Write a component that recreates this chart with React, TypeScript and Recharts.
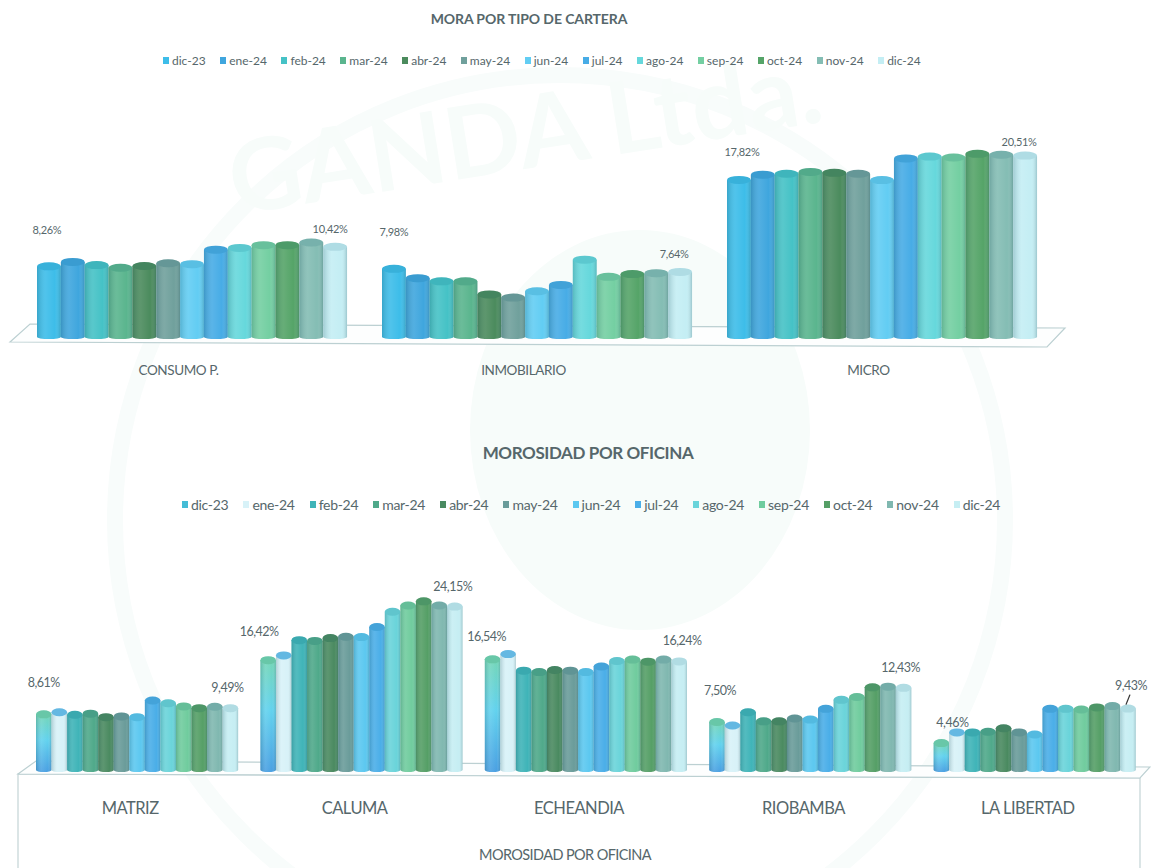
import { BarChart, Bar, XAxis, YAxis, Legend, LabelList } from "recharts";

const months = ["dic-23", "ene-24", "feb-24", "mar-24", "abr-24", "may-24", "jun-24", "jul-24", "ago-24", "sep-24", "oct-24", "nov-24", "dic-24"];

const carteraCategories = ["CONSUMO P.", "INMOBILARIO", "MICRO"];
const consumoValues = [8.26, 8.75, 8.4, 8.1, 8.3, 8.6, 8.5, 10.1, 10.3, 10.6, 10.6, 10.9, 10.42];
const inmobiliarioValues = [7.98, 6.95, 6.6, 6.6, 5.15, 4.8, 5.5, 6.2, 9.0, 7.1, 7.4, 7.5, 7.64];
const microValues = [17.82, 18.4, 18.5, 18.7, 18.6, 18.5, 17.8, 20.2, 20.4, 20.3, 20.7, 20.6, 20.51];

const oficinaCategories = ["MATRIZ", "CALUMA", "ECHEANDIA", "RIOBAMBA", "LA LIBERTAD"];
const matrizValues = [8.61, 8.9, 8.55, 8.7, 8.2, 8.3, 8.2, 10.6, 10.2, 9.75, 9.5, 9.7, 9.49];
const calumaValues = [16.42, 17.1, 19.3, 19.2, 19.6, 19.8, 19.75, 21.2, 23.4, 24.3, 24.9, 24.3, 24.15];
const echeandiaValues = [16.54, 17.3, 14.9, 14.7, 15, 14.9, 14.7, 15.5, 16.3, 16.5, 16.2, 16.5, 16.24];
const riobambaValues = [7.5, 7.0, 8.9, 7.6, 7.6, 8, 7.85, 9.4, 10.7, 11.1, 12.5, 12.6, 12.43];
const libertadValues = [4.46, 6, 6, 6.1, 6.6, 6, 5.7, 9.4, 9.4, 9.3, 9.6, 9.8, 9.43];

const carteraColors = ["#3dbde9", "#3fa6de", "#45c2c6", "#5ab58e", "#4b8b5d", "#70a09c", "#62cdf3", "#47ace6", "#66d8dc", "#74cfa2", "#55a468", "#84bdb4", "#c4eef4"];
const oficinaColors = ["#45bcd6", "#d8f2f8", "#3fb4b8", "#4fa98a", "#4a8a60", "#6a9c9a", "#5cc8f0", "#4aaee8", "#6ad4da", "#70cc9e", "#559f66", "#80b8b0", "#c6eef3"];

const buildRows = (categories: string[], columns: number[][]) =>
  categories.map((category, i) => {
    const row: Record<string, string | number> = { category };
    months.forEach((m, j) => {
      row[m] = columns[i][j];
    });
    return row;
  });

const carteraData = buildRows(carteraCategories, [consumoValues, inmobiliarioValues, microValues]);
const oficinaData = buildRows(oficinaCategories, [matrizValues, calumaValues, echeandiaValues, riobambaValues, libertadValues]);

const textColor = "#56676b";
const fontFamily = "Lato, sans-serif";
const fmt = (v: number) => v.toFixed(2).replace(".", ",") + "%";

const Cylinder = (props: any) => {
  const { x, y, width, height, fill, cap } = props;
  const ry = 4;
  const rx = width / 2;
  const cx = x + rx;
  const body = `M${x},${y + ry} L${x},${y + height} A${rx},2 0 0 0 ${x + width},${y + height} L${x + width},${y + ry} Z`;
  return (
    <g>
      <path d={body} fill={fill} />
      <path d={body} fill="url(#cylShade)" />
      <ellipse cx={cx} cy={y + ry} rx={rx} ry={ry} fill={cap || fill} />
      <ellipse cx={cx} cy={y + ry} rx={rx} ry={ry} fill="#1c5a70" fillOpacity={0.12} />
    </g>
  );
};

const LegendRow = ({ left, top, gap, size, spacing, colors }: any) => (
  <div style={{ position: "absolute", left, top, display: "flex", columnGap: gap, whiteSpace: "nowrap", fontFamily, fontSize: size, letterSpacing: spacing, color: textColor }}>
    {months.map((m, i) => (
      <span key={m} style={{ display: "flex", alignItems: "center", columnGap: 3 }}>
        <span style={{ width: 6, height: 7, background: colors[i], display: "block" }} />
        {m}
      </span>
    ))}
  </div>
);

// etiquetas del primer y ultimo mes, con ajuste a mano por categoria
const edgeLabel = (shift: number[], dy: number[], size: number, spacing: number, pointerAt = -1) => (props: any) => {
  const { x, y, width, value, index } = props;
  const tx = x + width / 2 + shift[index];
  return (
    <g>
      <text x={tx} y={y - dy[index]} textAnchor="middle" fontFamily={fontFamily} fontSize={size} letterSpacing={spacing} fill={textColor}>
        {fmt(Number(value))}
      </text>
      {index === pointerAt && <line x1={tx - 1} y1={y - dy[index] + 5} x2={tx - 5} y2={y - dy[index] + 15} stroke="#333" strokeWidth={1.3} />}
    </g>
  );
};

const Defs = () => (
  <defs>
    <linearGradient id="cylShade" x1="0" y1="0" x2="1" y2="0">
      <stop offset="0%" stopColor="#20505a" stopOpacity={0.22} />
      <stop offset="35%" stopColor="#ffffff" stopOpacity={0.1} />
      <stop offset="75%" stopColor="#ffffff" stopOpacity={0} />
      <stop offset="100%" stopColor="#20505a" stopOpacity={0.25} />
    </linearGradient>
    <linearGradient id="dicFade" x1="0" y1="0" x2="0" y2="1">
      <stop offset="0%" stopColor="#74d6b8" />
      <stop offset="45%" stopColor="#62d2ee" />
      <stop offset="100%" stopColor="#4aa0e2" />
    </linearGradient>
  </defs>
);

export default function App() {
  return (
    <div style={{ position: "absolute", left: 0, top: 0, width: 1151, height: 868, overflow: "hidden", background: "#fff", fontFamily, color: textColor }}>
      <svg width={1151} height={868} style={{ position: "absolute", left: 0, top: 0 }}>
        {/* marca de agua */}
        <circle cx={560} cy={520} r={445} fill="none" stroke="#f8fcfb" strokeWidth={16} />
        <ellipse cx={640} cy={430} rx={170} ry={200} fill="#f7fcfa" />
        <text x={235} y={215} fontFamily={fontFamily} fontSize={100} fontWeight={700} fill="#f7fcfa" transform="rotate(-9 235 215)">
          GANDA Ltda.
        </text>
        {/* pisos */}
        <polygon points="10,342 30,324 1065,328 1047,347" fill="#fdfefe" stroke="#bcd0d2" strokeWidth={1.2} />
        <polyline points="18,868 18,774 1140,778 1140,868" fill="none" stroke="#c4d4d6" strokeWidth={1.2} />
        <polygon points="18,774 36,761 1150,767 1140,778" fill="#fdfefe" stroke="#bcd0d2" strokeWidth={1.2} />
      </svg>

      <div style={{ position: "absolute", left: 0, width: 1058, textAlign: "center", top: 10, fontSize: 14, fontWeight: 700, letterSpacing: -0.1 }}>MORA POR TIPO DE CARTERA</div>
      <div style={{ position: "absolute", left: 0, width: 1176, textAlign: "center", top: 442, fontSize: 17, fontWeight: 700, letterSpacing: -0.4 }}>MOROSIDAD POR OFICINA</div>

      <div style={{ position: "absolute", left: 0, top: 0 }}>
        <BarChart width={1151} height={400} data={carteraData} barGap={0} barSize={23.85} margin={{ top: 111, right: 96, bottom: 23, left: 20 }}>
          <Defs />
          <XAxis dataKey="category" height={40} axisLine={false} tickLine={false} tickMargin={22} interval={0} dx={-14} tick={{ fill: textColor, fontSize: 13.5, fontFamily, letterSpacing: -0.4 }} />
          <YAxis hide domain={[0, 25]} />
          <Legend
            layout="horizontal"
            verticalAlign="middle"
            wrapperStyle={{ top: 0, left: 0, width: 1151, height: 0 }}
            content={() => <LegendRow left={163} top={53} gap={14.5} size={12} spacing={0} colors={carteraColors} />}
          />
          {months.map((m, i) => (
            <Bar key={m} dataKey={m} fill={carteraColors[i]} isAnimationActive={false} shape={(p: any) => <Cylinder {...p} />}>
              {i === 0 && <LabelList dataKey={m} content={edgeLabel([-2, 0, 3], [28, 29, 20], 11, -0.3)} />}
              {i === months.length - 1 && <LabelList dataKey={m} content={edgeLabel([-5, -6, -6], [10, 10, 6], 11, -0.3)} />}
            </Bar>
          ))}
        </BarChart>
      </div>

      <div style={{ position: "absolute", left: 0, top: 0 }}>
        <BarChart width={1151} height={868} data={oficinaData} barGap={0} barSize={15.55} margin={{ top: 562, right: 4, bottom: 0, left: 25 }}>
          <Defs />
          <XAxis
            dataKey="category"
            height={98}
            axisLine={false}
            tickLine={false}
            tickMargin={26}
            interval={0}
            dx={-7}
            tick={{ fill: textColor, fontSize: 16.5, fontFamily, letterSpacing: -0.5 }}
            label={{ value: "MOROSIDAD POR OFICINA", position: "insideBottom", offset: 8, dx: -21, fill: textColor, fontSize: 14.5, fontFamily, letterSpacing: -0.6 }}
          />
          <YAxis hide domain={[0, 30]} />
          <Legend
            layout="horizontal"
            verticalAlign="middle"
            wrapperStyle={{ top: 0, left: 0, width: 1151, height: 0 }}
            content={() => <LegendRow left={182} top={496} gap={15} size={14} spacing={-0.3} colors={oficinaColors} />}
          />
          {months.map((m, i) => (
            <Bar
              key={m}
              dataKey={m}
              fill={i === 0 ? "url(#dicFade)" : oficinaColors[i]}
              isAnimationActive={false}
              shape={(p: any) => <Cylinder {...p} cap={i === 0 ? "#74d6b0" : i === 1 ? "#6fc5f2" : undefined} />}
            >
              {i === 0 && <LabelList dataKey={m} content={edgeLabel([0, -9, -6, 3, 11], [23, 20, 14, 23, 12], 12.5, -0.5)} />}
              {i === months.length - 1 && <LabelList dataKey={m} content={edgeLabel([-3, -2, 3, -3, 3], [12, 12, 12, 12, 15], 12.5, -0.5, 4)} />}
            </Bar>
          ))}
        </BarChart>
      </div>
    </div>
  );
}
